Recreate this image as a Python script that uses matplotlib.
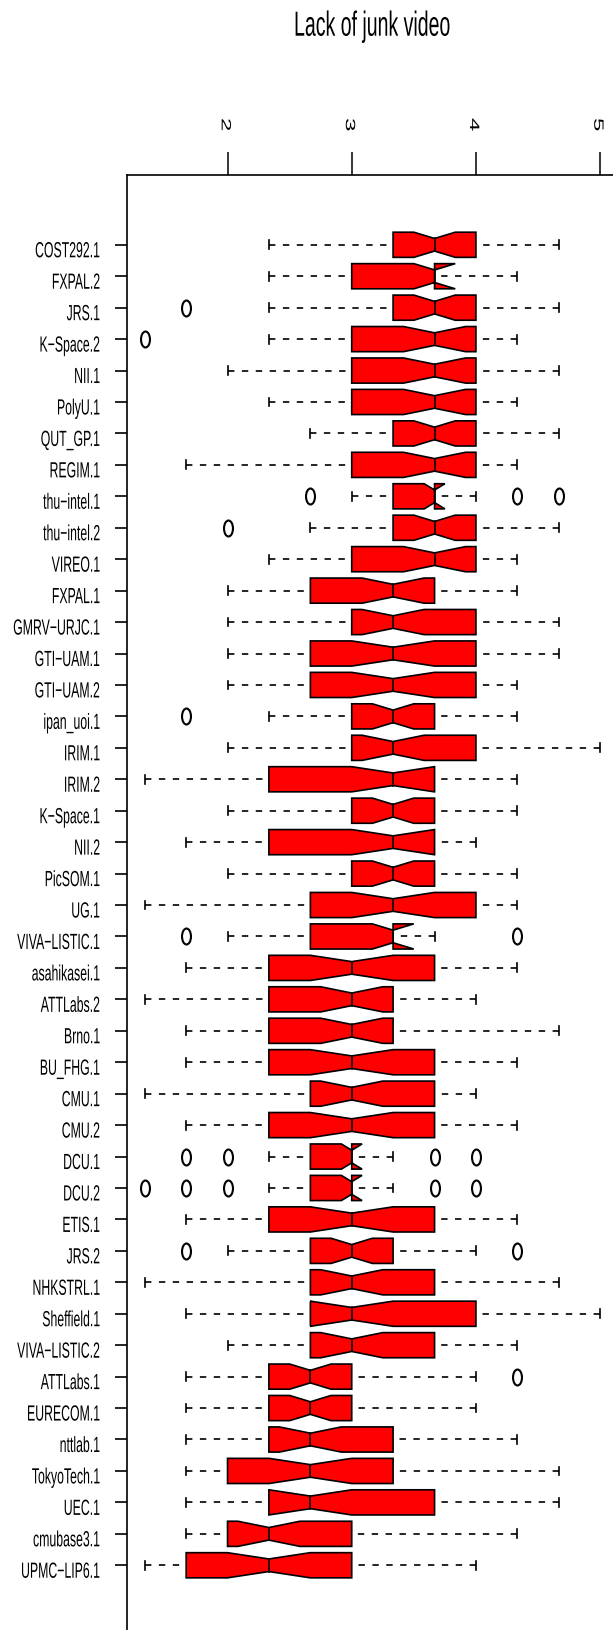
import numpy as np
import matplotlib
matplotlib.use('Agg')
import matplotlib.pyplot as plt
from matplotlib.patches import Polygon
from matplotlib.path import Path
from matplotlib.patheffects import AbstractPathEffect
from matplotlib.transforms import Affine2D, ScaledTranslation

# runs, top to bottom
runs = ['COST292.1', 'FXPAL.2', 'JRS.1', 'K−Space.2', 'NII.1', 'PolyU.1',
        'QUT_GP.1', 'REGIM.1', 'thu−intel.1', 'thu−intel.2', 'VIREO.1',
        'FXPAL.1', 'GMRV−URJC.1', 'GTI−UAM.1', 'GTI−UAM.2', 'ipan_uoi.1',
        'IRIM.1', 'IRIM.2', 'K−Space.1', 'NII.2', 'PicSOM.1', 'UG.1',
        'VIVA−LISTIC.1', 'asahikasei.1', 'ATTLabs.2', 'Brno.1', 'BU_FHG.1',
        'CMU.1', 'CMU.2', 'DCU.1', 'DCU.2', 'ETIS.1', 'JRS.2', 'NHKSTRL.1',
        'Sheffield.1', 'VIVA−LISTIC.2', 'ATTLabs.1', 'EURECOM.1', 'nttlab.1',
        'TokyoTech.1', 'UEC.1', 'cmubase3.1', 'UPMC−LIP6.1']

whisk_lo = [2.333, 2.333, 2.333, 2.333, 2.0, 2.333, 2.667, 1.667, 3.0, 2.667, 2.333,
            2.0, 2.0, 2.0, 2.0, 2.333, 2.0, 1.333, 2.0, 1.667, 2.0, 1.333,
            2.0, 1.667, 1.333, 1.667, 1.667, 1.333, 1.667, 2.333, 2.333, 1.667,
            2.0, 1.333, 1.667, 2.0, 1.667, 1.667, 1.667, 1.667, 1.667, 1.667, 1.333]
q1 = [3.333, 3.0, 3.333, 3.0, 3.0, 3.0, 3.333, 3.0, 3.333, 3.333, 3.0,
      2.667, 3.0, 2.667, 2.667, 3.0, 3.0, 2.333, 3.0, 2.333, 3.0, 2.667,
      2.667, 2.333, 2.333, 2.333, 2.333, 2.667, 2.333, 2.667, 2.667, 2.333,
      2.667, 2.667, 2.667, 2.667, 2.333, 2.333, 2.333, 2.0, 2.333, 2.0, 1.667]
median = [3.667] * 11 + [3.333] * 12 + [3.0] * 13 + [2.667] * 5 + [2.333] * 2
q3 = [4.0, 3.667, 4.0, 4.0, 4.0, 4.0, 4.0, 4.0, 3.667, 4.0, 4.0,
      3.667, 4.0, 4.0, 4.0, 3.667, 4.0, 3.667, 3.667, 3.667, 3.667, 4.0,
      3.333, 3.667, 3.333, 3.333, 3.667, 3.667, 3.667, 3.0, 3.0, 3.667,
      3.333, 3.667, 4.0, 3.667, 3.0, 3.0, 3.333, 3.333, 3.667, 3.0, 3.0]
whisk_hi = [4.667, 4.333, 4.667, 4.333, 4.667, 4.333, 4.667, 4.333, 4.0, 4.667, 4.333,
            4.333, 4.667, 4.667, 4.333, 4.333, 5.0, 4.333, 4.333, 4.0, 4.333, 4.333,
            3.667, 4.333, 4.0, 4.667, 4.333, 4.0, 4.333, 3.333, 3.333, 4.333,
            4.0, 4.667, 5.0, 4.333, 4.0, 4.0, 4.333, 4.667, 4.667, 4.333, 4.0]
outliers = {2: [1.667], 3: [1.333], 8: [2.667, 4.333, 4.667], 9: [2.0],
            15: [1.667], 22: [1.667, 4.333], 29: [1.667, 2.0, 3.667, 4.0],
            30: [1.333, 1.667, 2.0, 3.667, 4.0], 32: [1.667, 4.333], 36: [4.333]}
n_obs = 40  # ratings per run, gives the notch width

x_ticks = [2, 3, 4, 5]

SQUASH = 0.56  # the original device drew everything narrow


class SquashX(AbstractPathEffect):
    # narrow the glyphs horizontally around the text anchor
    def __init__(self, text, sx):
        super().__init__()
        self.text = text
        self.sx = sx

    def draw_path(self, renderer, gc, tpath, affine, rgbFace=None):
        x0, _ = self.text.get_transform().transform(self.text.get_position())
        squash = Affine2D().translate(-x0, 0).scale(self.sx, 1).translate(x0, 0)
        renderer.draw_path(gc, tpath, affine + squash, rgbFace)


def narrow(text):
    text.set_path_effects([SquashX(text, SQUASH)])
    return text


plt.rcParams['font.family'] = ['Liberation Sans', 'DejaVu Sans']
plt.rcParams['lines.scale_dashes'] = False

fig = plt.figure(figsize=(6.13, 16.31), dpi=100)
ax = fig.add_axes([0.2064, -0.0031, 0.8023, 0.8952])

n = len(runs)
wid = 0.4
notch_frac = 0.5
staple = 0.14
lw = 1.2

for i in range(n):
    lo, a, m, b, hi = whisk_lo[i], q1[i], median[i], q3[i], whisk_hi[i]
    # whiskers, dashed from the staple towards the box
    ax.plot([lo, a], [i, i], color='black', lw=lw, dashes=(4.6, 5.4), dash_capstyle='butt', zorder=1)
    ax.plot([hi, b], [i, i], color='black', lw=lw, dashes=(4.6, 5.4), dash_capstyle='butt', zorder=1)
    ax.plot([lo, lo], [i - staple, i + staple], color='black', lw=lw, zorder=1)
    ax.plot([hi, hi], [i - staple, i + staple], color='black', lw=lw, zorder=1)

    # notched box, drawn the way R's bxp does it
    half = 1.58 * (b - a) / np.sqrt(n_obs)
    c_lo, c_hi = m - half, m + half
    xs = [a, a, c_lo, m, c_hi, b, b, c_hi, m, c_lo]
    ys = [i - wid, i + wid, i + wid, i + wid * notch_frac, i + wid, i + wid,
          i - wid, i - wid, i - wid * notch_frac, i - wid]
    ax.add_patch(Polygon(np.column_stack([xs, ys]), closed=True, facecolor='#ff0000',
                         edgecolor='black', lw=lw, joinstyle='miter', zorder=2))
    ax.plot([m, m], [i - wid * notch_frac, i + wid * notch_frac], color='black', lw=lw, zorder=3)

# open outlier circles, squashed like the rest of the picture
circle = Path.unit_circle()
ellipse = Path(circle.vertices * [SQUASH, 1.0], circle.codes)
for i, vals in outliers.items():
    ax.plot(vals, [i] * len(vals), linestyle='none', marker=ellipse, ms=11.5,
            mfc='none', mec='black', mew=1.5, zorder=4)

ax.set_xlim(1.1867, 5.1467)
ax.set_ylim(n - 1 + 2.22, -2.22)

for side in ['right', 'bottom']:
    ax.spines[side].set_visible(False)
for side in ['left', 'top']:
    ax.spines[side].set_linewidth(1.2)

ax.xaxis.set_ticks_position('top')
ax.set_xticks(x_ticks)
ax.tick_params(axis='x', direction='out', length=16.6, width=1.1,
               labeltop=False, labelbottom=False)
ax.set_yticks(range(n))
ax.tick_params(axis='y', direction='out', length=8.6, width=1.2, labelleft=False)

# run names, right aligned left of the ticks
name_trans = ax.get_yaxis_transform() + ScaledTranslation(-0.265, -0.125, fig.dpi_scale_trans)
for i, name in enumerate(runs):
    narrow(ax.text(0, i, name, transform=name_trans, ha='right', va='baseline', fontsize=15.8))

# rotated numbers above the top axis
tick_trans = ax.get_xaxis_transform() + ScaledTranslation(-0.025, 0.503, fig.dpi_scale_trans)
for v in x_ticks:
    narrow(ax.text(v, 1, str(v), transform=tick_trans, ha='center', va='center',
                   rotation=-90, fontsize=17.3))

narrow(fig.text(372.4 / 613, 1 - 36.7 / 1631, 'Lack of junk video', ha='center',
                va='baseline', fontsize=25.1))

fig.savefig('out.png', dpi=100)
